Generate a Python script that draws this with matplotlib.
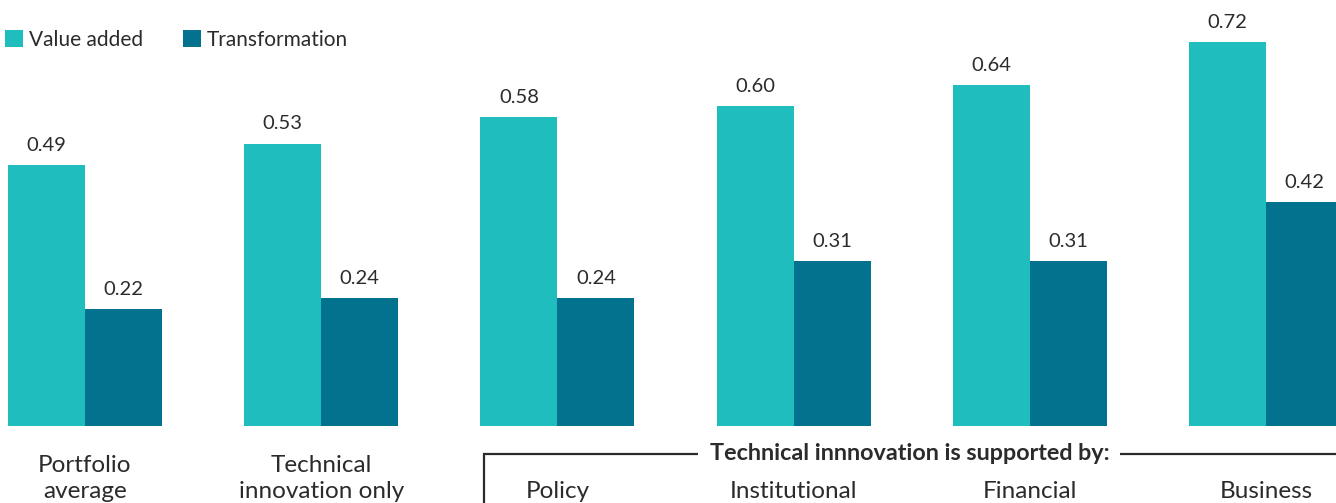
import matplotlib
matplotlib.use("Agg")
import matplotlib.pyplot as plt
import matplotlib.transforms as mtransforms
import numpy as np

categories = ["Portfolio\naverage", "Technical\ninnovation only",
              "Policy", "Institutional", "Financial", "Business"]
value_added = [0.49, 0.53, 0.58, 0.60, 0.64, 0.72]
transformation = [0.22, 0.24, 0.24, 0.31, 0.31, 0.42]
series_names = ["Value added", "Transformation"]
bracket_label = "Technical innnovation is supported by:"

C_VA = "#20BDBF"
C_TR = "#03728F"
TXT = "#2b2b2b"

plt.rcParams['font.family'] = ['Lato', 'DejaVu Sans']

W, H = 1336, 503
fig = plt.figure(figsize=(W / 100, H / 100), dpi=100)
ax = fig.add_axes([0, 77 / H, 1, 1 - 77 / H])

x = np.arange(len(categories))
bw = 0.326
b1 = ax.bar(x - bw / 2, value_added, bw, color=C_VA, label=series_names[0])
b2 = ax.bar(x + bw / 2, transformation, bw, color=C_TR, label=series_names[1])
for b in (b1, b2):
    ax.bar_label(b, fmt="%.2f", padding=8, fontsize=14.5, color=TXT)

ax.set_xlim(-85 / 236.2, (W - 85) / 236.2)
ax.set_ylim(0, 426 / 533)
for s in ax.spines.values():
    s.set_visible(False)
ax.set_yticks([])

# first two categories as tick labels, the supported group as separate texts
ax.set_xticks(x[:2], categories[:2], fontsize=17.5, color=TXT, linespacing=1.3)
ax.tick_params(axis='x', length=0, pad=21)
trans = mtransforms.blended_transform_factory(ax.transData, fig.transFigure)
for xi, lab in zip(x[2:], categories[2:]):
    ax.text(xi, (H - 498) / H, lab, transform=trans,
            ha='center', va='baseline', fontsize=17.5, color=TXT)

leg = ax.legend(loc='upper left', bbox_to_anchor=(0.004, 1 - 30 / H), bbox_transform=fig.transFigure,
                ncol=2, frameon=False, fontsize=15, handlelength=0.85, handleheight=0.85,
                handletextpad=0.3, columnspacing=1.9, borderaxespad=0, borderpad=0.0)
for t in leg.get_texts():
    t.set_color(TXT)

# bracket
yb = (H - 454) / H
xl = 2 - bw + 0.015
ax.plot([xl, xl, 6.0], [0, yb, yb], transform=trans, color=TXT, lw=1.6,
        clip_on=False, solid_joinstyle='miter')
ax.text(3.49, yb, bracket_label, transform=trans, ha='center', va='center',
        fontsize=16.8, fontweight='bold', color=TXT,
        bbox=dict(facecolor='white', edgecolor='none', pad=8))

fig.savefig("out.png", dpi=100)
